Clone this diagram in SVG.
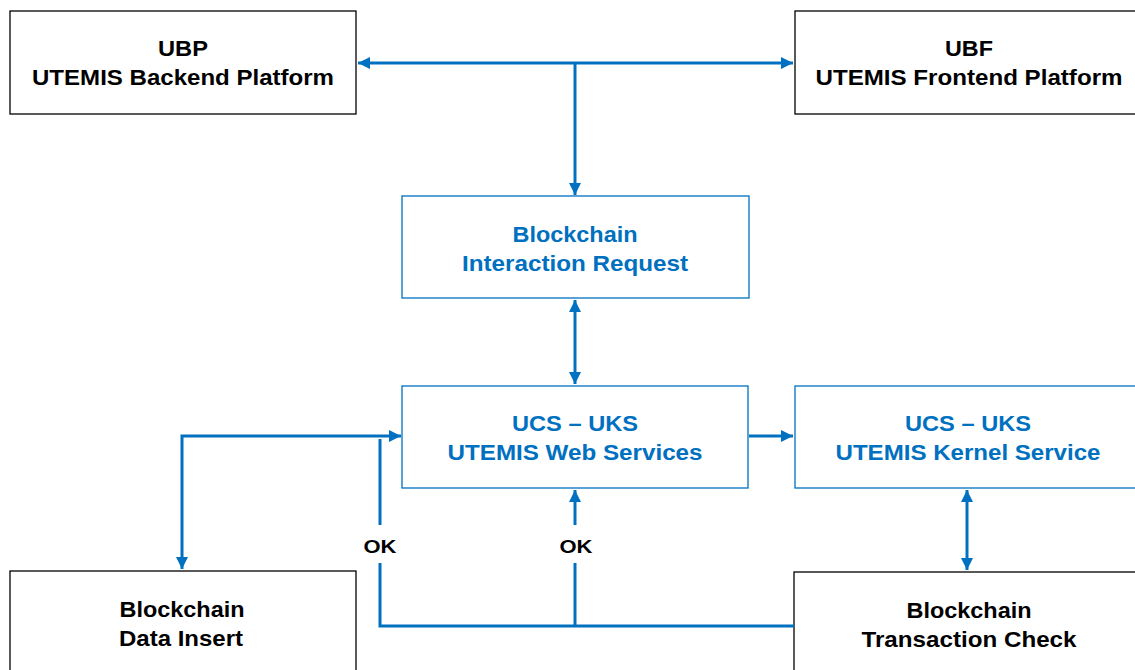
<svg xmlns="http://www.w3.org/2000/svg" width="1135" height="670" viewBox="0 0 1135 670">
<style>
.bk{fill:#fff;stroke:#000;stroke-width:1.3}
.bl{fill:#fff;stroke:#0070C0;stroke-width:1.3}
.t{font-family:"Liberation Sans",Arial,sans-serif;font-weight:bold;font-size:22px;text-anchor:middle}
.tk{fill:#000}
.tb{fill:#0070C0}
.ok{font-family:"Liberation Sans",Arial,sans-serif;font-weight:bold;font-size:19px;text-anchor:middle;fill:#000}
.c{fill:none;stroke:#0070C0;stroke-width:3}
</style>
<defs>
<marker id="a" viewBox="0 0 10 10" refX="10" refY="5" markerWidth="4" markerHeight="4" orient="auto-start-reverse" markerUnits="strokeWidth">
<path d="M0,0 L10,5 L0,10 z" fill="#0070C0"/>
</marker>
</defs>
<rect width="1135" height="670" fill="#fff"/>
<g id="ubp"><rect class="bk" x="10" y="11" width="346" height="103"/>
<text class="t tk" x="183" y="56" textLength="50" lengthAdjust="spacingAndGlyphs">UBP</text><text class="t tk" x="183" y="85" textLength="302" lengthAdjust="spacingAndGlyphs">UTEMIS Backend Platform</text></g>
<g id="ubf"><rect class="bk" x="795" y="11" width="345" height="103"/>
<text class="t tk" x="969" y="56" textLength="48" lengthAdjust="spacingAndGlyphs">UBF</text><text class="t tk" x="969" y="85" textLength="307" lengthAdjust="spacingAndGlyphs">UTEMIS Frontend Platform</text></g>
<g id="bir"><rect class="bl" x="402" y="196" width="347" height="102"/>
<text class="t tb" x="575" y="242" textLength="125" lengthAdjust="spacingAndGlyphs">Blockchain</text><text class="t tb" x="575" y="271" textLength="226" lengthAdjust="spacingAndGlyphs">Interaction Request</text></g>
<g id="ws"><rect class="bl" x="402" y="386" width="346" height="102"/>
<text class="t tb" x="575" y="431" textLength="126" lengthAdjust="spacingAndGlyphs">UCS – UKS</text><text class="t tb" x="575" y="460" textLength="255" lengthAdjust="spacingAndGlyphs">UTEMIS Web Services</text></g>
<g id="ks"><rect class="bl" x="795" y="386" width="345" height="102"/>
<text class="t tb" x="968" y="431" textLength="126" lengthAdjust="spacingAndGlyphs">UCS – UKS</text><text class="t tb" x="968" y="460" textLength="265" lengthAdjust="spacingAndGlyphs">UTEMIS Kernel Service</text></g>
<g id="bdi"><rect class="bk" x="10" y="571" width="346" height="104"/>
<text class="t tk" x="182" y="617" textLength="125" lengthAdjust="spacingAndGlyphs">Blockchain</text><text class="t tk" x="181" y="646" textLength="124" lengthAdjust="spacingAndGlyphs">Data Insert</text></g>
<g id="btc"><rect class="bk" x="794" y="572" width="346" height="104"/>
<text class="t tk" x="969" y="618" textLength="125" lengthAdjust="spacingAndGlyphs">Blockchain</text><text class="t tk" x="969" y="647" textLength="215" lengthAdjust="spacingAndGlyphs">Transaction Check</text></g>
<g id="connectors">
<path class="c" d="M358,63 H793" marker-start="url(#a)" marker-end="url(#a)"/>
<path class="c" d="M575,63 V195" marker-end="url(#a)"/>
<path class="c" d="M575,300 V384" marker-start="url(#a)" marker-end="url(#a)"/>
<path class="c" d="M401,436 H182 V569" marker-start="url(#a)" marker-end="url(#a)"/>
<path class="c" d="M749,436 H793" marker-end="url(#a)"/>
<path class="c" d="M967,490 V570" marker-start="url(#a)" marker-end="url(#a)"/>
<path class="c" d="M380,439 V525"/>
<path class="c" d="M380,563 V626 H794"/>
<path class="c" d="M575,625 V563"/>
<path class="c" d="M575,525 V490" marker-end="url(#a)"/>
<text class="ok" x="380" y="553" textLength="33" lengthAdjust="spacingAndGlyphs">OK</text>
<text class="ok" x="576" y="553" textLength="33" lengthAdjust="spacingAndGlyphs">OK</text>
</g>
</svg>
